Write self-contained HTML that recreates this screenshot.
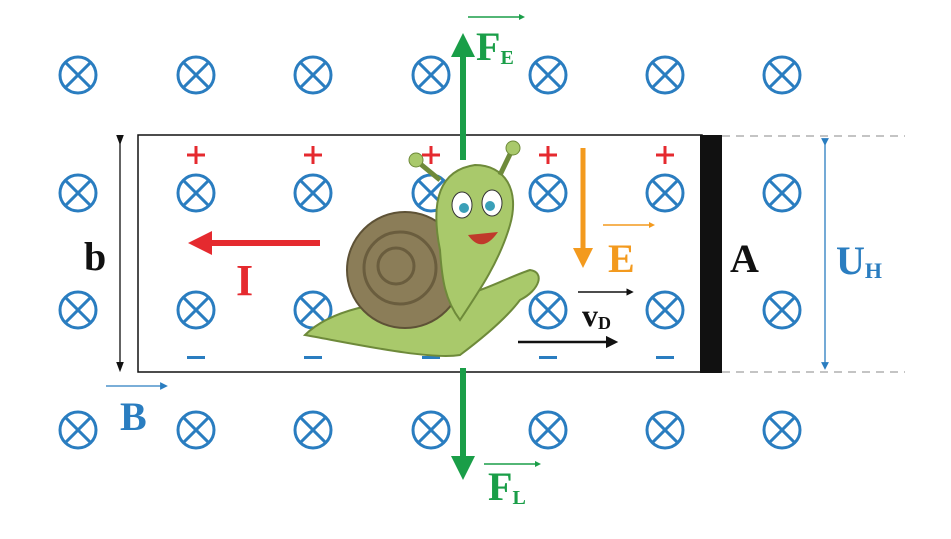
<!DOCTYPE html>
<html><head><meta charset="utf-8"><style>
html,body{margin:0;padding:0;background:#fff;}
svg{display:block;}
text{font-family:"Liberation Serif",serif;font-weight:bold;}
</style></head><body>
<svg id="s" width="951" height="539" viewBox="0 0 951 539">
<defs>
<marker id="ag" markerWidth="4" markerHeight="4" refX="2" refY="2" orient="auto" markerUnits="strokeWidth"><path d="M0,0 L4,2 L0,4z" fill="#1a9e48"/></marker>
<marker id="ar" markerWidth="4" markerHeight="4" refX="2" refY="2" orient="auto" markerUnits="strokeWidth"><path d="M0,0 L4,2 L0,4z" fill="#e52a2f"/></marker>
<marker id="ao" markerWidth="4" markerHeight="4" refX="2" refY="2" orient="auto" markerUnits="strokeWidth"><path d="M0,0 L4,2 L0,4z" fill="#f39a1e"/></marker>
<marker id="ak" markerWidth="5" markerHeight="5" refX="2.5" refY="2.5" orient="auto" markerUnits="strokeWidth"><path d="M0,0 L5,2.5 L0,5z" fill="#111"/></marker>
<marker id="ab" markerWidth="6" markerHeight="6" refX="3" refY="3" orient="auto" markerUnits="strokeWidth"><path d="M0,0 L6,3 L0,6z" fill="#2a7dc0"/></marker>
<marker id="ak2" markerWidth="8" markerHeight="8" refX="4" refY="4" orient="auto" markerUnits="strokeWidth"><path d="M0,1 L8,4 L0,7z" fill="#111"/></marker>
</defs>
<g id="field"></g>
<rect x="138" y="135" width="564" height="237" fill="none" stroke="#111" stroke-width="1.5"/>
<rect x="700" y="135" width="22" height="238" fill="#111"/>
<line x1="722" y1="136" x2="905" y2="136" stroke="#888" stroke-dasharray="8,6"/>
<line x1="722" y1="372" x2="905" y2="372" stroke="#888" stroke-dasharray="8,6"/>
<line x1="825" y1="142" x2="825" y2="366" stroke="#2a7dc0" stroke-width="1.3" marker-start="url(#ab)" marker-end="url(#ab)"/>
<text x="836" y="274" font-size="40" fill="#2a7dc0">U<tspan font-size="22" dy="4">H</tspan></text>
<line x1="120" y1="140" x2="120" y2="367" stroke="#111" stroke-width="1.3" marker-start="url(#ak2)" marker-end="url(#ak2)"/>
<text x="84" y="270" font-size="40" fill="#111">b</text>
<text x="730" y="272" font-size="40" fill="#111">A</text>
<g id="plus" fill="#e52a2f"></g>
<g id="minus" fill="#2a7dc0"></g>
<!-- snail -->
<g>
<path d="M305,335 C330,310 380,300 430,300 C470,300 500,280 530,270 C545,272 540,290 520,300 C505,320 480,340 460,355 C430,360 360,345 305,335z" fill="#a9c96b" stroke="#6e8a3a" stroke-width="2"/>
<circle cx="405" cy="270" r="58" fill="#8b7d58" stroke="#5e5236" stroke-width="2"/>
<circle cx="400" cy="268" r="36" fill="none" stroke="#6a5d3e" stroke-width="3"/>
<circle cx="396" cy="266" r="18" fill="none" stroke="#6a5d3e" stroke-width="3"/>
<path d="M440,250 C430,200 440,170 475,165 C505,165 520,190 510,225 C500,260 480,290 460,320 C445,300 442,280 440,250z" fill="#a9c96b" stroke="#6e8a3a" stroke-width="2"/>
<line x1="440" y1="180" x2="418" y2="162" stroke="#6e8a3a" stroke-width="5"/>
<line x1="500" y1="175" x2="512" y2="150" stroke="#6e8a3a" stroke-width="5"/>
<circle cx="416" cy="160" r="7" fill="#a9c96b" stroke="#6e8a3a"/>
<circle cx="513" cy="148" r="7" fill="#a9c96b" stroke="#6e8a3a"/>
<ellipse cx="462" cy="205" rx="10" ry="13" fill="#fff" stroke="#333"/>
<ellipse cx="492" cy="203" rx="10" ry="13" fill="#fff" stroke="#333"/>
<circle cx="464" cy="208" r="5" fill="#3aa0b8"/><circle cx="490" cy="206" r="5" fill="#3aa0b8"/>
<path d="M468,235 Q482,255 498,232z" fill="#c0392b"/>
</g>
<!-- arrows -->
<line x1="463" y1="160" x2="463" y2="45" stroke="#1a9e48" stroke-width="6" marker-end="url(#ag)"/>
<line x1="463" y1="368" x2="463" y2="468" stroke="#1a9e48" stroke-width="6" marker-end="url(#ag)"/>
<text x="476" y="60" font-size="40" fill="#1a9e48">F<tspan font-size="20" dy="4">E</tspan></text>
<line x1="468" y1="17" x2="522" y2="17" stroke="#1a9e48" stroke-width="1.5" marker-end="url(#ag)"/>
<text x="488" y="500" font-size="40" fill="#1a9e48">F<tspan font-size="20" dy="4">L</tspan></text>
<line x1="484" y1="464" x2="538" y2="464" stroke="#1a9e48" stroke-width="1.5" marker-end="url(#ag)"/>
<line x1="320" y1="243" x2="200" y2="243" stroke="#e52a2f" stroke-width="6" marker-end="url(#ar)"/>
<text x="236" y="295" font-size="44" fill="#e52a2f">I</text>
<line x1="583" y1="148" x2="583" y2="258" stroke="#f39a1e" stroke-width="5" marker-end="url(#ao)"/>
<text x="608" y="272" font-size="40" fill="#f39a1e">E</text>
<line x1="603" y1="225" x2="652" y2="225" stroke="#f39a1e" stroke-width="1.5" marker-end="url(#ao)"/>
<line x1="518" y1="342" x2="612" y2="342" stroke="#111" stroke-width="2.5" marker-end="url(#ak)"/>
<text x="582" y="326" font-size="32" fill="#111">v<tspan font-size="18" dy="3">D</tspan></text>
<line x1="578" y1="292" x2="630" y2="292" stroke="#111" stroke-width="1.5" marker-end="url(#ak)"/>
<text x="120" y="430" font-size="40" fill="#2a7dc0">B</text>
<line x1="106" y1="386" x2="164" y2="386" stroke="#2a7dc0" stroke-width="1.3" marker-end="url(#ab)"/>
</svg>
<script>
const colsX=[78,196,313,431,548,665,782];
const rowsY=[75,193,310,430];
const NS="http://www.w3.org/2000/svg";
const f=document.getElementById('field');
rowsY.forEach(y=>colsX.forEach(x=>{
  const g=document.createElementNS(NS,'g');
  
  
  g.innerHTML=`<circle cx="${x}" cy="${y}" r="18" fill="none" stroke="#2a7dc0" stroke-width="3"/><line x1="${x-12.7}" y1="${y-12.7}" x2="${x+12.7}" y2="${y+12.7}" stroke="#2a7dc0" stroke-width="3"/><line x1="${x-12.7}" y1="${y+12.7}" x2="${x+12.7}" y2="${y-12.7}" stroke="#2a7dc0" stroke-width="3"/>`;
  f.appendChild(g);
}));
const pl=document.getElementById('plus'),mi=document.getElementById('minus');
colsX.slice(1,6).forEach(x=>{
  const p=document.createElementNS(NS,'path');
  p.setAttribute('d',`M${x-9},${155}h18M${x},${146}v18`);
  p.setAttribute('stroke','#e52a2f');p.setAttribute('stroke-width','3');
  
  
  pl.appendChild(p);
  const m=document.createElementNS(NS,'rect');
  m.setAttribute('x',x-9);m.setAttribute('y',356);m.setAttribute('width',18);m.setAttribute('height',3);
  
  
  mi.appendChild(m);
});
</script>
</body></html>
